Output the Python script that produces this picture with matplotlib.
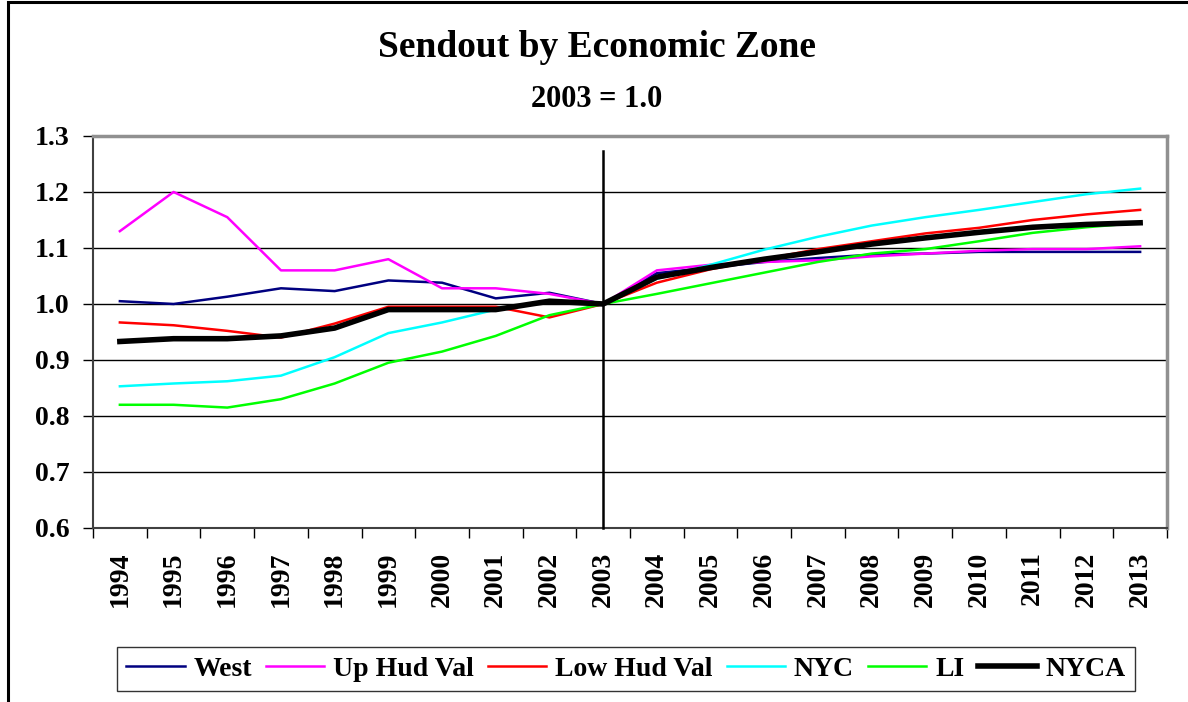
import matplotlib.pyplot as plt
from matplotlib.patches import Rectangle

years = [str(y) for y in range(1994, 2014)]

west = [1.005, 1.000, 1.013, 1.028, 1.023, 1.042, 1.038, 1.010, 1.020, 1.000,
        1.055, 1.065, 1.075, 1.082, 1.088, 1.090, 1.093, 1.093, 1.093, 1.093]
up_hud = [1.130, 1.200, 1.155, 1.060, 1.060, 1.080, 1.028, 1.028, 1.018, 1.000,
          1.060, 1.070, 1.075, 1.078, 1.085, 1.090, 1.095, 1.098, 1.098, 1.103]
low_hud = [0.967, 0.962, 0.952, 0.940, 0.965, 0.995, 0.995, 0.995, 0.976, 1.000,
           1.038, 1.062, 1.080, 1.098, 1.112, 1.126, 1.136, 1.150, 1.160, 1.168]
nyc = [0.853, 0.858, 0.862, 0.872, 0.905, 0.948, 0.967, 0.990, 1.005, 1.000,
       1.045, 1.070, 1.097, 1.120, 1.140, 1.155, 1.168, 1.182, 1.196, 1.206]
li = [0.820, 0.820, 0.815, 0.830, 0.858, 0.895, 0.915, 0.943, 0.980, 1.000,
      1.018, 1.037, 1.056, 1.075, 1.090, 1.098, 1.112, 1.127, 1.137, 1.145]
nyca = [0.933, 0.938, 0.938, 0.943, 0.957, 0.990, 0.990, 0.990, 1.005, 1.000,
        1.048, 1.065, 1.080, 1.093, 1.107, 1.118, 1.128, 1.137, 1.142, 1.145]

series = [
    ("West", west, "#000080", 1.8),
    ("Up Hud Val", up_hud, "#FF00FF", 1.8),
    ("Low Hud Val", low_hud, "#FF0000", 1.8),
    ("NYC", nyc, "#00FFFF", 1.8),
    ("LI", li, "#00FF00", 1.8),
    ("NYCA", nyca, "#000000", 4.0),
]

plt.rcParams["font.family"] = ["Liberation Serif", "DejaVu Serif"]
plt.rcParams["font.weight"] = "bold"

fig = plt.figure(figsize=(11.88, 7.02), dpi=100)
ax = fig.add_axes([0.0783, 0.2479, 0.904, 0.5584])

# outer chart frame
fig.patches.append(Rectangle((8 / 1188, -0.1), 1.2, 1.1 - 2 / 702,
                             transform=fig.transFigure, fill=False,
                             edgecolor="black", linewidth=2.2))

x = list(range(len(years)))
for name, vals, color, lw in series:
    ax.plot(x, vals, color=color, linewidth=lw, label=name, zorder=3)

ax.plot([9, 9], [0.6, 1.273], color="black", linewidth=1.8, zorder=4,
        clip_on=False)

ax.set_xlim(-0.5, len(years) - 0.5)
ax.set_ylim(0.6, 1.3)

yt = [0.6, 0.7, 0.8, 0.9, 1.0, 1.1, 1.2, 1.3]
ax.set_yticks(yt)
ax.set_yticklabels([f"{v:.1f}" for v in yt], fontsize=20, fontweight="bold")
for v in yt[1:-1]:
    ax.axhline(v, color="black", linewidth=1.0, zorder=1)

ax.set_xticks(x)
ax.set_xticklabels(years, rotation=90, fontsize=20, fontweight="bold")
ax.tick_params(axis="x", which="major", length=0, pad=17)
ax.set_xticks([i - 0.5 for i in range(len(years) + 1)], minor=True)
ax.tick_params(axis="x", which="minor", length=7, width=1.0, direction="out")
ax.tick_params(axis="y", length=7, width=1.0, direction="out", pad=10)

for s in ["top", "right"]:
    ax.spines[s].set_color("#909090")
    ax.spines[s].set_linewidth(2.5)
for s in ["left", "bottom"]:
    ax.spines[s].set_color("#404040")
    ax.spines[s].set_linewidth(1.5)

fig.text(0.5025, 0.932, "Sendout by Economic Zone", ha="center", va="center",
         fontsize=27, fontweight="bold")
fig.text(0.5025, 0.858, "2003 = 1.0", ha="center", va="center",
         fontsize=22, fontweight="bold")

leg = fig.legend(loc="center", bbox_to_anchor=(0.527, 0.047), ncol=6,
                 frameon=True, fancybox=False, edgecolor="black",
                 prop={"size": 20, "weight": "bold"}, handlelength=2.1,
                 columnspacing=0.5, handletextpad=0.32, borderpad=0.35,
                 borderaxespad=0)
leg.get_frame().set_linewidth(1.0)

fig.savefig("out.png", dpi=100)
